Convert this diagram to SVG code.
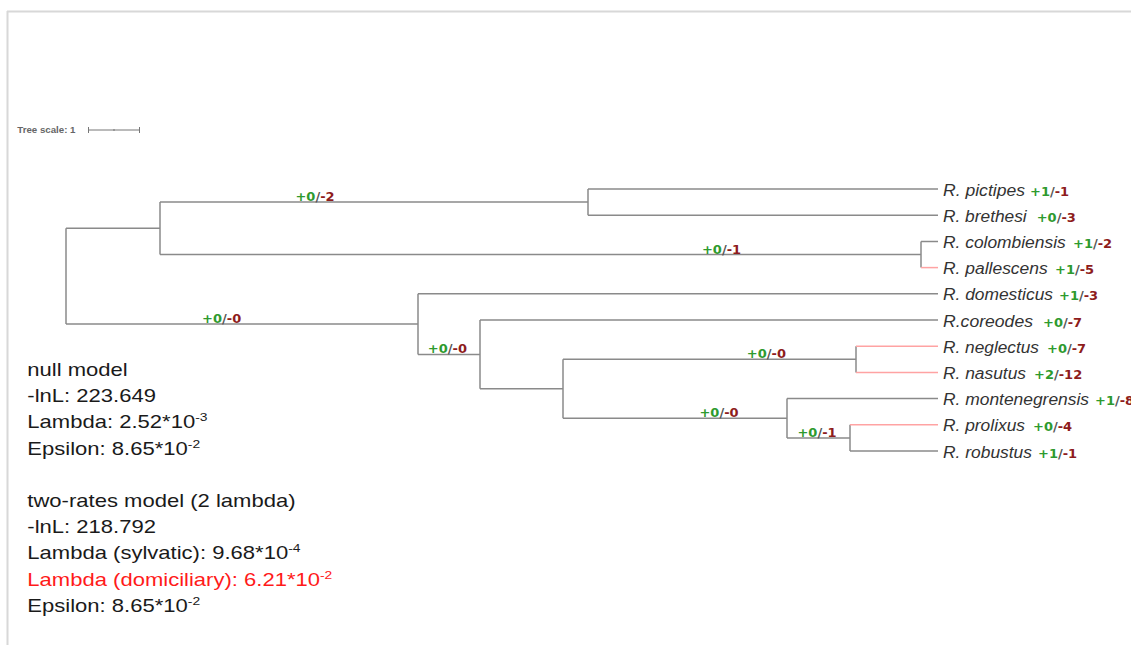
<svg xmlns="http://www.w3.org/2000/svg" width="1131" height="645" viewBox="0 0 1131 645">
<style>
.br{stroke:#8a8a8a;stroke-width:1.5;fill:none}
.rd{stroke:#ffa3a3;stroke-width:1.5;fill:none}
.leaf{font-family:"Liberation Sans",Arial,sans-serif;font-style:italic;font-size:16px;fill:#333}
.cnt{font-family:"DejaVu Sans",sans-serif;font-weight:bold;font-size:13px}
.lbl{font-family:"DejaVu Sans",sans-serif;font-weight:bold;font-size:13px;text-anchor:middle}
.g{fill:#2e9a2e}
.s{fill:#555}
.r{fill:#8e1c1c}
.info{font-family:"Liberation Sans",Arial,sans-serif;font-size:17.5px;fill:#1a1a1a}
.sup{font-size:11px}
</style>
<rect width="1131" height="645" fill="#ffffff"/>
<g id="frame">
<path d="M7.5 11 V645 M7 11.5 H1131" stroke="#d8d8d8" stroke-width="2" fill="none"/>
</g>
<g id="tree-scale">
<text x="17.3" y="133.3" font-family="Liberation Sans,Arial,sans-serif" font-weight="bold" font-size="9.7" fill="#666">Tree scale: 1</text>
<path d="M88.5 130 H139.5 M88.5 127 V133 M139.5 127 V133 M114 129 V131" stroke="#777" stroke-width="1" fill="none"/>
</g>
<g id="connectors">
<path class="br" d="M66 228.3 V324.1 M66 228.3 H160 M66 324.1 H418"/>
<path class="br" d="M160 202.1 V254.5 M160 202.1 H588 M160 254.5 H921"/>
<path class="br" d="M588 189 V215.2 M588 189 H938 M588 215.2 H938"/>
<path class="br" d="M921 241.4 V267.6 M921 241.4 H938"/>
<path class="rd" d="M921 267.6 H938"/>
<path class="br" d="M418 293.8 V354.4 M418 293.8 H938 M418 354.4 H480"/>
<path class="br" d="M480 320 V388.8 M480 320 H938 M480 388.8 H563"/>
<path class="br" d="M563 359.3 V418.25 M563 359.3 H856 M563 418.25 H787"/>
<path class="br" d="M856 346.2 V372.4"/>
<path class="rd" d="M856 346.2 H938 M856 372.4 H938"/>
<path class="br" d="M787 398.6 V437.9 M787 398.6 H938 M787 437.9 H850"/>
<path class="br" d="M850 424.8 V451 M850 451 H938"/>
<path class="rd" d="M850 424.8 H938"/>
</g>
<g id="branch-labels">
<text class="lbl" x="315" y="201.2"><tspan class="g">+0</tspan><tspan class="s">/</tspan><tspan class="r">-2</tspan></text>
<text class="lbl" x="721.5" y="253.5"><tspan class="g">+0</tspan><tspan class="s">/</tspan><tspan class="r">-1</tspan></text>
<text class="lbl" x="221.7" y="323"><tspan class="g">+0</tspan><tspan class="s">/</tspan><tspan class="r">-0</tspan></text>
<text class="lbl" x="447.4" y="353"><tspan class="g">+0</tspan><tspan class="s">/</tspan><tspan class="r">-0</tspan></text>
<text class="lbl" x="766.4" y="358"><tspan class="g">+0</tspan><tspan class="s">/</tspan><tspan class="r">-0</tspan></text>
<text class="lbl" x="719" y="417"><tspan class="g">+0</tspan><tspan class="s">/</tspan><tspan class="r">-0</tspan></text>
<text class="lbl" x="817" y="436.5"><tspan class="g">+0</tspan><tspan class="s">/</tspan><tspan class="r">-1</tspan></text>
</g>
<g id="leaf-pictipes"><text class="leaf" x="943" y="195.5" textLength="82" lengthAdjust="spacingAndGlyphs">R. pictipes</text><text class="cnt" x="1030" y="195.5"><tspan class="g">+1</tspan><tspan class="s">/</tspan><tspan class="r">-1</tspan></text></g>
<g id="leaf-brethesi"><text class="leaf" x="943" y="221.7" textLength="83.7" lengthAdjust="spacingAndGlyphs">R. brethesi</text><text class="cnt" x="1036.7" y="221.7"><tspan class="g">+0</tspan><tspan class="s">/</tspan><tspan class="r">-3</tspan></text></g>
<g id="leaf-colombiensis"><text class="leaf" x="943" y="247.9" textLength="122.7" lengthAdjust="spacingAndGlyphs">R. colombiensis</text><text class="cnt" x="1073" y="247.9"><tspan class="g">+1</tspan><tspan class="s">/</tspan><tspan class="r">-2</tspan></text></g>
<g id="leaf-pallescens"><text class="leaf" x="943" y="274.1" textLength="104.7" lengthAdjust="spacingAndGlyphs">R. pallescens</text><text class="cnt" x="1055" y="274.1"><tspan class="g">+1</tspan><tspan class="s">/</tspan><tspan class="r">-5</tspan></text></g>
<g id="leaf-domesticus"><text class="leaf" x="943" y="300.3" textLength="110" lengthAdjust="spacingAndGlyphs">R. domesticus</text><text class="cnt" x="1059" y="300.3"><tspan class="g">+1</tspan><tspan class="s">/</tspan><tspan class="r">-3</tspan></text></g>
<g id="leaf-coreodes"><text class="leaf" x="943" y="326.5" textLength="90" lengthAdjust="spacingAndGlyphs">R.coreodes</text><text class="cnt" x="1043" y="326.5"><tspan class="g">+0</tspan><tspan class="s">/</tspan><tspan class="r">-7</tspan></text></g>
<g id="leaf-neglectus"><text class="leaf" x="943" y="352.7" textLength="96" lengthAdjust="spacingAndGlyphs">R. neglectus</text><text class="cnt" x="1047" y="352.7"><tspan class="g">+0</tspan><tspan class="s">/</tspan><tspan class="r">-7</tspan></text></g>
<g id="leaf-nasutus"><text class="leaf" x="943" y="378.9" textLength="83" lengthAdjust="spacingAndGlyphs">R. nasutus</text><text class="cnt" x="1034" y="378.9"><tspan class="g">+2</tspan><tspan class="s">/</tspan><tspan class="r">-12</tspan></text></g>
<g id="leaf-montenegrensis"><text class="leaf" x="943" y="405.1" textLength="146" lengthAdjust="spacingAndGlyphs">R. montenegrensis</text><text class="cnt" x="1095" y="405.1"><tspan class="g">+1</tspan><tspan class="s">/</tspan><tspan class="r">-8</tspan></text></g>
<g id="leaf-prolixus"><text class="leaf" x="943" y="431.3" textLength="82" lengthAdjust="spacingAndGlyphs">R. prolixus</text><text class="cnt" x="1033" y="431.3"><tspan class="g">+0</tspan><tspan class="s">/</tspan><tspan class="r">-4</tspan></text></g>
<g id="leaf-robustus"><text class="leaf" x="943" y="457.5" textLength="89" lengthAdjust="spacingAndGlyphs">R. robustus</text><text class="cnt" x="1038" y="457.5"><tspan class="g">+1</tspan><tspan class="s">/</tspan><tspan class="r">-1</tspan></text></g>
<g id="model-info" transform="translate(27.3,0) scale(1.26,1)">
<text class="info" x="0" y="376">null model</text>
<text class="info" x="0" y="402.2">-lnL: 223.649</text>
<text class="info" x="0" y="428.4">Lambda: 2.52*10<tspan class="sup" dy="-7">-3</tspan></text>
<text class="info" x="0" y="454.6">Epsilon: 8.65*10<tspan class="sup" dy="-7">-2</tspan></text>
<text class="info" x="0" y="507">two-rates model (2 lambda)</text>
<text class="info" x="0" y="533.2">-lnL: 218.792</text>
<text class="info" x="0" y="559.4">Lambda (sylvatic): 9.68*10<tspan class="sup" dy="-7">-4</tspan></text>
<text class="info" x="0" y="585.6" fill="#ff1a1a" style="fill:#ff1a1a">Lambda (domiciliary): 6.21*10<tspan class="sup" dy="-7">-2</tspan></text>
<text class="info" x="0" y="611.8">Epsilon: 8.65*10<tspan class="sup" dy="-7">-2</tspan></text>
</g>
</svg>
